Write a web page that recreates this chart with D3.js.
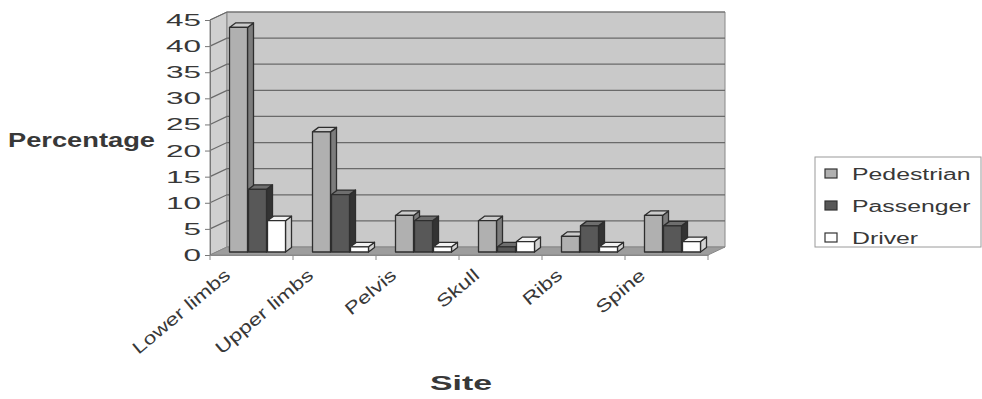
<!DOCTYPE html>
<html>
<head>
<meta charset="utf-8">
<script src="https://cdn.jsdelivr.net/npm/d3@7"></script>
<style>
  body { margin: 0; background: #fff; }
  text { font-family: "Liberation Sans", Arial, sans-serif; fill: #383838; }
</style>
</head>
<body>
<div id="chart"></div>
<script>
// data
const sites = ["Lower limbs", "Upper limbs", "Pelvis", "Skull", "Ribs", "Spine"];
const pedestrian = [43, 23, 7, 6, 3, 7];
const passenger = [12, 11, 6, 1, 5, 5];
const driver = [6, 1, 1, 2, 1, 2];
const seriesNames = ["Pedestrian", "Passenger", "Driver"];
const yTicks = [0, 5, 10, 15, 20, 25, 30, 35, 40, 45];

const seriesValues = [pedestrian, passenger, driver];
const colors = [
  { front: "#b0b0b0", top: "#cbcbcb", side: "#7c7c7c" },
  { front: "#585858", top: "#6e6e6e", side: "#333333" },
  { front: "#ffffff", top: "#f2f2f2", side: "#d4d4d4" }
];

const svg = d3.select("#chart").append("svg")
  .attr("width", 982)
  .attr("height", 399);

// front plane of the 3d box
const x = d3.scaleBand().domain(sites).range([210, 708]);
const y = d3.scaleLinear().domain([0, 45]).range([255, 20]);
const depth = { dx: 17, dy: -8 };

// stretch text horizontally like the scanned original
function stretch(sel, k) {
  sel.each(function () {
    const w = this.getComputedTextLength();
    d3.select(this).attr("textLength", w * k).attr("lengthAdjust", "spacingAndGlyphs");
  });
}

const pts = a => a.map(p => p.join(",")).join(" ");
const x0 = x.range()[0], x1 = x.range()[1];

// walls and floor
svg.append("polygon")
  .attr("points", pts([[x0, y(0)], [x0, y(45)], [x0 + depth.dx, y(45) + depth.dy], [x0 + depth.dx, y(0) + depth.dy]]))
  .attr("fill", "#d0d0d0").attr("stroke", "#888");
svg.append("polygon")
  .attr("points", pts([[x0 + depth.dx, y(45) + depth.dy], [x1 + depth.dx, y(45) + depth.dy], [x1 + depth.dx, y(0) + depth.dy], [x0 + depth.dx, y(0) + depth.dy]]))
  .attr("fill", "#c9c9c9").attr("stroke", "#888");
svg.append("polygon")
  .attr("points", pts([[x0, y(0)], [x1, y(0)], [x1 + depth.dx, y(0) + depth.dy], [x0 + depth.dx, y(0) + depth.dy]]))
  .attr("fill", "#9d9d9d").attr("stroke", "#888");

// gridlines on the walls
svg.append("g").selectAll("polyline")
  .data(yTicks.slice(1))
  .join("polyline")
  .attr("points", d => pts([[x0, y(d)], [x0 + depth.dx, y(d) + depth.dy], [x1 + depth.dx, y(d) + depth.dy]]))
  .attr("fill", "none")
  .attr("stroke", "#6a6a6a")
  .attr("stroke-width", 1.2);

// bars
const barW = 18, barStep = 19;
const bShift = { dx: 6, dy: -3 };
const bDepth = { dx: 6, dy: -4.5 };
const groupW = barW + barStep * 2;
const barsGroup = svg.append("g");

sites.forEach((site, i) => {
  seriesValues.forEach((vals, s) => {
    const v = vals[i];
    const left = x(site) + (x.bandwidth() - groupW) / 2 + bShift.dx + s * barStep;
    const right = left + barW;
    const bottom = y(0) + bShift.dy;
    const top = y(v) + bShift.dy;
    const g = barsGroup.append("g")
      .attr("stroke", "#2e2e2e")
      .attr("stroke-width", 1.3)
      .attr("stroke-linejoin", "round");
    g.append("polygon")
      .attr("points", pts([[right, bottom], [right, top], [right + bDepth.dx, top + bDepth.dy], [right + bDepth.dx, bottom + bDepth.dy]]))
      .attr("fill", colors[s].side);
    g.append("polygon")
      .attr("points", pts([[left, top], [right, top], [right + bDepth.dx, top + bDepth.dy], [left + bDepth.dx, top + bDepth.dy]]))
      .attr("fill", colors[s].top);
    g.append("rect")
      .attr("x", left).attr("y", top)
      .attr("width", barW).attr("height", bottom - top)
      .attr("fill", colors[s].front);
  });
});

// y axis
const yAxis = svg.append("g")
  .attr("transform", `translate(${x0},0)`)
  .call(d3.axisLeft(y).tickValues(yTicks).tickSize(5).tickSizeOuter(0).tickPadding(4));
yAxis.select(".domain").attr("stroke", "#777");
yAxis.selectAll(".tick line").attr("stroke", "#777");
yAxis.selectAll(".tick text")
  .attr("font-size", 17)
  .attr("font-family", "Liberation Sans, Arial, sans-serif")
  .attr("fill", "#383838")
  .call(stretch, 1.85);

// x axis (ticks between categories)
const xAxis = svg.append("g")
  .attr("transform", `translate(0,${y(0)})`)
  .call(d3.axisBottom(x).tickSize(0).tickFormat(""));
xAxis.select(".domain").attr("stroke", "#888");
xAxis.selectAll(".xtick")
  .data(sites.map(d => x(d)).concat([x1]))
  .join("line")
  .attr("class", "xtick")
  .attr("x1", d => d).attr("x2", d => d)
  .attr("y1", 0).attr("y2", 5)
  .attr("stroke", "#888");

svg.append("g").selectAll("text")
  .data(sites)
  .join("text")
  .attr("transform", d => `translate(${x(d) + x.bandwidth() / 2 - 20},277) rotate(-40)`)
  .attr("text-anchor", "end")
  .attr("font-size", 17.5)
  .text(d => d)
  .call(stretch, 1.3);

// axis titles
svg.append("text")
  .attr("x", 8).attr("y", 147)
  .attr("font-size", 20).attr("font-weight", "bold")
  .attr("textLength", 147).attr("lengthAdjust", "spacingAndGlyphs")
  .text("Percentage");
svg.append("text")
  .attr("x", 430).attr("y", 390)
  .attr("font-size", 20).attr("font-weight", "bold")
  .attr("textLength", 62).attr("lengthAdjust", "spacingAndGlyphs")
  .text("Site");

// legend
const legend = svg.append("g").attr("transform", "translate(815,157)");
legend.append("rect")
  .attr("width", 166).attr("height", 90)
  .attr("fill", "#fff").attr("stroke", "#9a9a9a");
const items = legend.selectAll(".item")
  .data(seriesNames)
  .join("g")
  .attr("class", "item")
  .attr("transform", (d, i) => `translate(10,${17 + i * 32})`);
items.append("rect")
  .attr("x", 0).attr("y", -5)
  .attr("width", 12).attr("height", 9)
  .attr("fill", (d, i) => colors[i].front)
  .attr("stroke", "#333").attr("stroke-width", 1.2);
items.append("text")
  .attr("x", 27).attr("y", 6)
  .attr("font-size", 16)
  .text(d => d)
  .call(stretch, 1.55);
</script>
</body>
</html>
